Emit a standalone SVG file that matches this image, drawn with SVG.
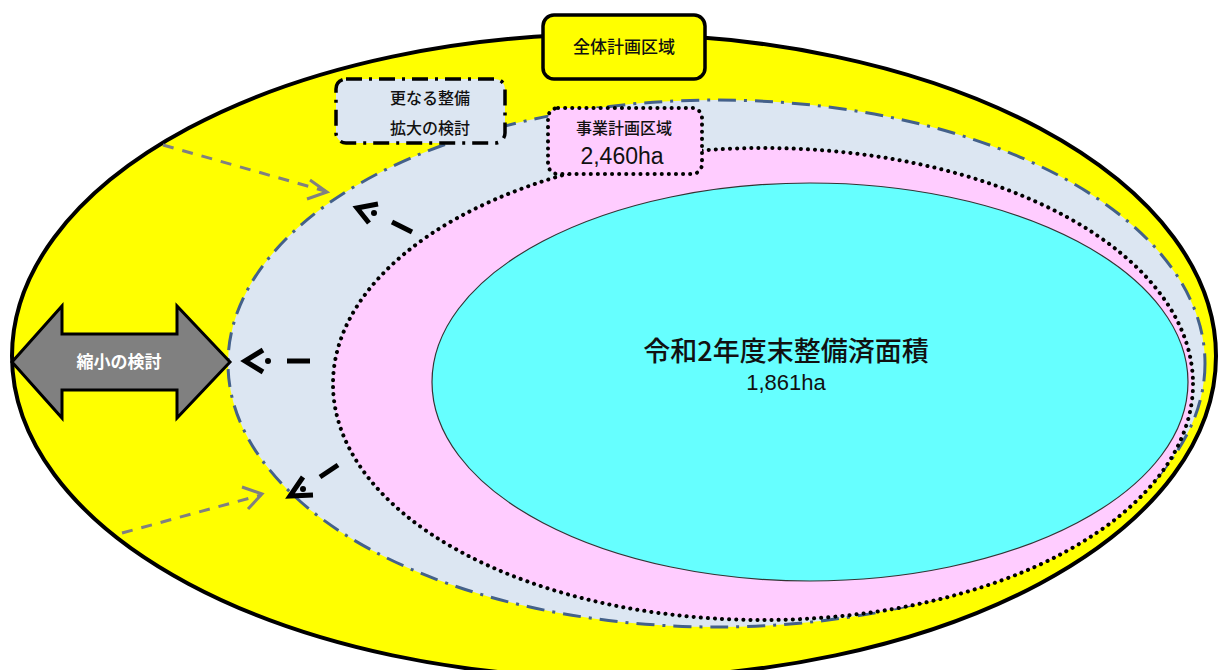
<svg xmlns="http://www.w3.org/2000/svg" width="1218" height="670" viewBox="0 0 1218 670">
<style>
.jp{font-family:"Noto Sans CJK JP","Noto Sans",sans-serif;fill:#111;font-weight:500}
.num{font-family:"Liberation Sans","DejaVu Sans",sans-serif;fill:#111}
.gray{fill:none;stroke:#808080;stroke-width:3}
.blk{fill:none;stroke:#000;stroke-width:5;stroke-linecap:butt}
</style>
<rect width="1218" height="670" fill="#fff"/>
<g id="zone-all">
<ellipse cx="614" cy="356" rx="602" ry="322" fill="#ffff00" stroke="#000" stroke-width="4"/>
</g>
<g id="zone-expand">
<ellipse cx="716.5" cy="363.5" rx="488.5" ry="263.5" fill="#dce6f2" stroke="#44618a" stroke-width="3" stroke-dasharray="18 8 3 8"/>
</g>
<g id="zone-project">
<ellipse cx="763" cy="384" rx="430" ry="236" fill="#ffccff" stroke="#000" stroke-width="4" stroke-dasharray="0.1 7" stroke-linecap="round"/>
</g>
<g id="zone-done">
<ellipse cx="810" cy="382" rx="378" ry="199" fill="#66ffff" stroke="#333" stroke-width="1.2"/>
<text class="jp" x="786" y="361" font-size="27" text-anchor="middle">令和2年度末整備済面積</text>
<text class="num" x="786" y="390" font-size="22" text-anchor="middle">1,861ha</text>
</g>
<g id="connectors">
<path class="gray" d="M163,145 L325,191" stroke-dasharray="11 9"/>
<path class="gray" d="M310,180 L327,192 L307,199"/>
<path class="gray" d="M122,533 L261,495" stroke-dasharray="11 9"/>
<path class="gray" d="M242,487 L262,494 L248,509"/>
<line class="blk" x1="392" y1="222" x2="412" y2="232"/>
<circle cx="374" cy="213" r="3" fill="#000"/>
<path class="blk" d="M378,204 L357,208 L369,223"/>
<line class="blk" x1="287" y1="361" x2="310" y2="361"/>
<circle cx="268" cy="361" r="3" fill="#000"/>
<path class="blk" d="M263,350 L245,361 L263,372"/>
<line class="blk" x1="320" y1="477" x2="338" y2="465"/>
<circle cx="303" cy="489" r="3" fill="#000"/>
<path class="blk" d="M303,477 L290,496 L313,495"/>
</g>
<g id="shrink">
<polygon points="12,362 62,306 62,334 177,334 177,306 230,362 177,418 177,390 62,390 62,418" fill="#808080" stroke="#000" stroke-width="3" stroke-linejoin="miter"/>
<text x="119" y="368" font-size="17" font-weight="bold" text-anchor="middle" style="font-family:'Noto Sans CJK JP',sans-serif;fill:#fff">縮小の検討</text>
</g>
<g id="label-all">
<rect x="543" y="15" width="162" height="64" rx="11" fill="#ffff00" stroke="#000" stroke-width="3.5"/>
<text class="jp" x="624" y="53" font-size="17" text-anchor="middle">全体計画区域</text>
</g>
<g id="label-expand">
<rect x="336" y="79" width="169" height="64" rx="10" fill="#dce6f2" stroke="#000" stroke-width="3.5" stroke-dasharray="16 7 3 7"/>
<text class="jp" x="430" y="104" font-size="16" text-anchor="middle">更なる整備</text>
<text class="jp" x="430" y="134" font-size="16" text-anchor="middle">拡大の検討</text>
</g>
<g id="label-project">
<rect x="548" y="108" width="154" height="66" rx="10" fill="#ffccff" stroke="#000" stroke-width="4" stroke-dasharray="0.1 7" stroke-linecap="round"/>
<text class="jp" x="624" y="134" font-size="16" text-anchor="middle">事業計画区域</text>
<text class="num" x="622" y="164" font-size="23" text-anchor="middle">2,460ha</text>
</g>
</svg>
